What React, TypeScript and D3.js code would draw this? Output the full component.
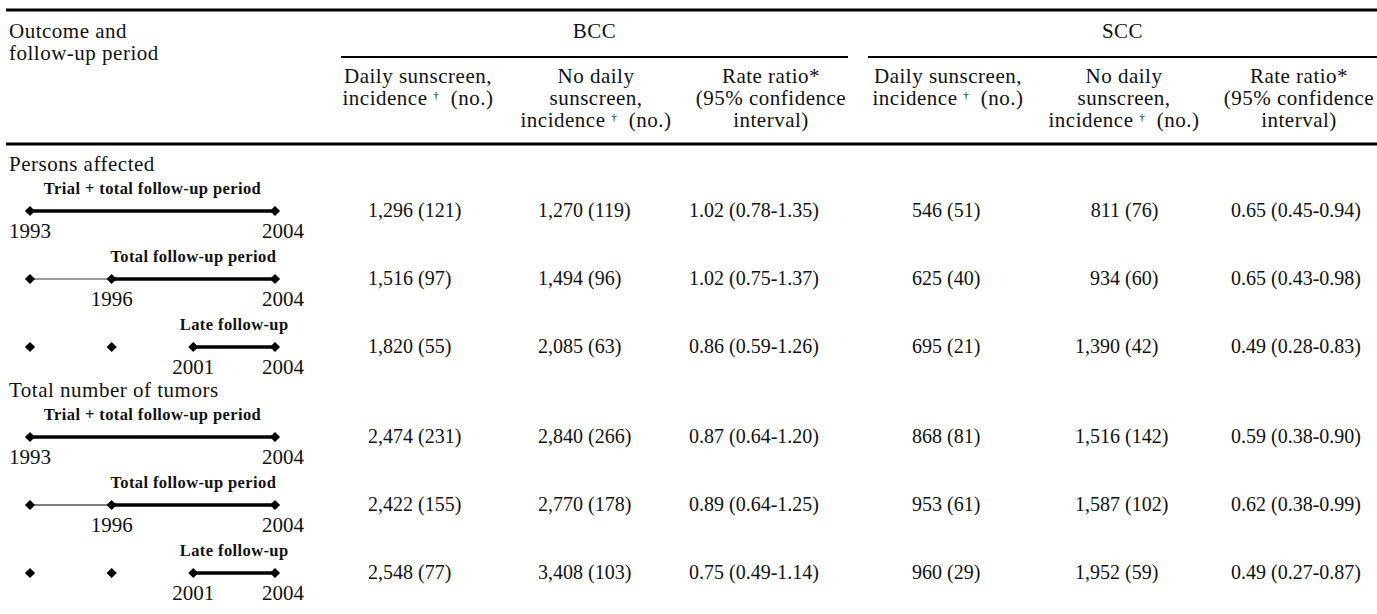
import { useEffect } from 'react';
import * as d3 from 'd3';

// row labels
const groups = ['Persons affected', 'Total number of tumors'];
const periods = ['Trial + total follow-up period', 'Total follow-up period', 'Late follow-up'];
const periodStart = ['1993', '1996', '2001'];
const years = ['1993', '1996', '2001', '2004'];
const cancers = ['BCC', 'SCC'];

// column headers († = superscript dagger)
const colHeads = [
  ['Daily sunscreen,', 'incidence† (no.)'],
  ['No daily', 'sunscreen,', 'incidence† (no.)'],
  ['Rate ratio*', '(95% confidence', 'interval)'],
];

// values, rows = groups x periods
const bccDailyInc = [1296, 1516, 1820, 2474, 2422, 2548];
const bccDailyN = [121, 97, 55, 231, 155, 77];
const bccNoneInc = [1270, 1494, 2085, 2840, 2770, 3408];
const bccNoneN = [119, 96, 63, 266, 178, 103];
const bccRR = [1.02, 1.02, 0.86, 0.87, 0.89, 0.75];
const bccLo = [0.78, 0.75, 0.59, 0.64, 0.64, 0.49];
const bccHi = [1.35, 1.37, 1.26, 1.2, 1.25, 1.14];

const sccDailyInc = [546, 625, 695, 868, 953, 960];
const sccDailyN = [51, 40, 21, 81, 61, 29];
const sccNoneInc = [811, 934, 1390, 1516, 1587, 1952];
const sccNoneN = [76, 60, 42, 142, 102, 59];
const sccRR = [0.65, 0.65, 0.49, 0.59, 0.62, 0.49];
const sccLo = [0.45, 0.43, 0.28, 0.38, 0.38, 0.27];
const sccHi = [0.94, 0.98, 0.83, 0.9, 0.99, 0.87];

const FONT = "'Liberation Serif', 'Times New Roman', serif";
const W = 1377;
const H = 614;

const fmtInt = d3.format(',');
const fmt2 = d3.format('.2f');

// layout
const headX = [[418, 596, 771], [948, 1124, 1299]];
const numX = [[413, 583, 724], [942, 1120, 1266]];
const spanX = [[341, 848], [868, 1377]];
const headY = [83, 105, 127];
const WORD = { fontSize: 21, letterSpacing: 0.5 };

function HeadLine({ x, y, text }: { x: number; y: number; text: string }) {
  const parts = text.split('†');
  if (parts.length === 1) {
    return <text x={x} y={y} textAnchor="middle" {...WORD}>{text}</text>;
  }
  return (
    <text x={x} y={y} textAnchor="middle" {...WORD}>
      {parts[0] + '\u00a0'}
      <tspan dy={-6} fontSize={11} fill="#000">†</tspan>
      <tspan dy={6}>{'\u00a0\u00a0' + parts[1].trim()}</tspan>
    </text>
  );
}

function Cell({ x, y, main, paren }: { x: number; y: number; main: string; paren: string }) {
  return (
    <g>
      <text x={x} y={y} textAnchor="end">{main}</text>
      <text x={x + 5} y={y} textAnchor="start">{paren}</text>
    </g>
  );
}

export default function App() {
  useEffect(() => {
    document.body.style.margin = '0';
  }, []);

  const xYear = d3.scalePoint<string>().domain(years).range([30, 275]);
  const groupY = d3.scalePoint<number>().domain([0, 1]).range([211, 437]);
  const periodY = d3.scaleLinear().domain([0, 2]).range([0, 136]);
  const lineY = (g: number, p: number) => groupY(g)! + periodY(p);

  const diamond = d3.symbol().type(d3.symbolDiamond2).size(66)()!;

  const preStroke = ['#9a9a9a', '#000'];
  const preWidth = [2, 1.2];

  const tables = [
    { di: bccDailyInc, dn: bccDailyN, ni: bccNoneInc, nn: bccNoneN, rr: bccRR, lo: bccLo, hi: bccHi },
    { di: sccDailyInc, dn: sccDailyN, ni: sccNoneInc, nn: sccNoneN, rr: sccRR, lo: sccLo, hi: sccHi },
  ];

  return (
    <svg width={W} height={H} style={{ display: 'block', background: '#fff' }}
      fontFamily={FONT} fontSize={20} fill="#111">
      {/* rules */}
      <line x1={6} x2={W} y1={10} y2={10} stroke="#000" strokeWidth={3} />
      <line x1={6} x2={W} y1={144} y2={144} stroke="#000" strokeWidth={3} />

      <text x={9} y={38} {...WORD}>Outcome and</text>
      <text x={9} y={60} {...WORD}>follow-up period</text>

      {cancers.map((c, ci) => (
        <g key={c}>
          <text x={(spanX[ci][0] + spanX[ci][1]) / 2} y={38} textAnchor="middle" {...WORD}>{c}</text>
          <line x1={spanX[ci][0]} x2={spanX[ci][1]} y1={57} y2={57} stroke="#000" strokeWidth={2} />
          {colHeads.map((lines, k) =>
            lines.map((t, li) => (
              <HeadLine key={`${k}-${li}`} x={headX[ci][k]} y={headY[li]} text={t} />
            ))
          )}
        </g>
      ))}

      {groups.map((gl, g) => (
        <g key={gl}>
          <text x={9} y={lineY(g, 0) - 40} {...WORD}>{gl}</text>
          {periods.map((pl, p) => {
            const y = lineY(g, p);
            const si = years.indexOf(periodStart[p]);
            const x0 = xYear(periodStart[p])!;
            const x1 = xYear('2004')!;
            const row = g * periods.length + p;
            return (
              <g key={pl}>
                <text x={(x0 + x1) / 2} y={y - 17} textAnchor="middle"
                  fontWeight="bold" fontSize={16.5} letterSpacing={0.4}>{pl}</text>
                {p === 1 && (
                  <line x1={xYear('1993')} x2={x0} y1={y} y2={y}
                    stroke={preStroke[g]} strokeWidth={preWidth[g]} />
                )}
                <line x1={x0} x2={x1} y1={y} y2={y} stroke="#000" strokeWidth={3.5} />
                {years.filter((yr, i) => i <= si || yr === '2004').map(yr => (
                  <path key={yr} d={diamond} transform={`translate(${xYear(yr)},${y})`} fill="#000" />
                ))}
                <text x={x0} y={y + 27} textAnchor="middle" fontSize={21}>{periodStart[p]}</text>
                <text x={x1 + 8} y={y + 27} textAnchor="middle" fontSize={21}>2004</text>

                {tables.map((t, ci) => (
                  <g key={ci}>
                    <Cell x={numX[ci][0]} y={y + 6} main={fmtInt(t.di[row])} paren={`(${t.dn[row]})`} />
                    <Cell x={numX[ci][1]} y={y + 6} main={fmtInt(t.ni[row])} paren={`(${t.nn[row]})`} />
                    <Cell x={numX[ci][2]} y={y + 6} main={fmt2(t.rr[row])}
                      paren={`(${fmt2(t.lo[row])}-${fmt2(t.hi[row])})`} />
                  </g>
                ))}
              </g>
            );
          })}
        </g>
      ))}
    </svg>
  );
}
